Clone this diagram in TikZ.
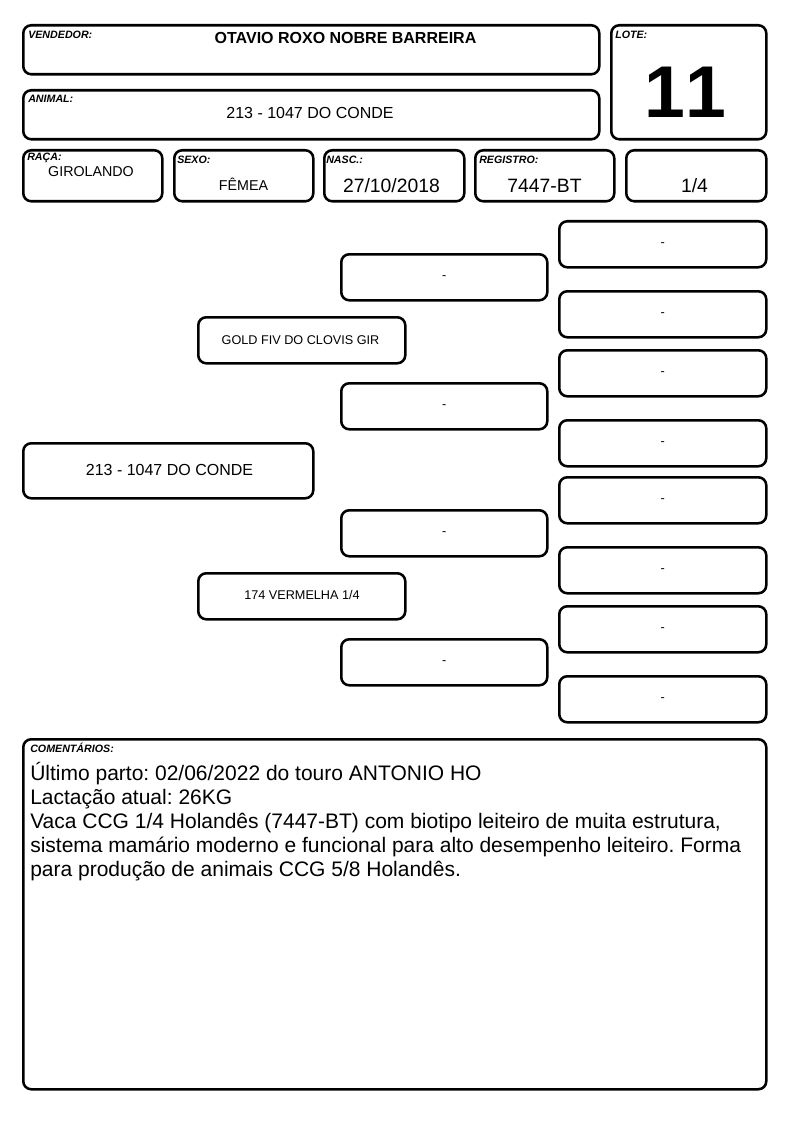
\documentclass[tikz,border=0pt]{standalone}
\usepackage{fontspec}
\setmainfont{Liberation Sans}
\frenchspacing
\newcommand\fsz[1]{\fontsize{#1}{#1}\selectfont}
\newcommand\mkbox[5]{\node[box, minimum width={(#4-#2-2)*0.75pt}, minimum height={(#5-#3-2)*0.75pt}] (#1) at (#2+1,#3+1) {};}
\tikzset{
  box/.style={draw, line width=1.9pt, rounded corners=6pt, inner sep=0pt, anchor=north west},
  lbl/.style={font=\bfseries\itshape\fsz{8}, anchor=west, inner sep=0pt},
  val/.style={inner sep=0pt, anchor=center},
  ped/.style={inner sep=0pt, anchor=center, font=\fsz{9.5}},
}
\begin{document}
\begin{tikzpicture}[x=0.75pt, y=-0.75pt]
\useasboundingbox (0,0) rectangle (794,1123);
% header boxes
\mkbox{vend}{21}{23}{599}{74}
\mkbox{anim}{21}{88}{599}{139}
\mkbox{lote}{609}{23}{766}{139}
\mkbox{raca}{21}{148}{162}{201}
\mkbox{sexo}{172}{148}{313}{201}
\mkbox{nasc}{322}{148}{464}{201}
\mkbox{reg}{473}{148}{614}{201}
\mkbox{frac}{624}{148}{766}{201}
% labels
\node[lbl] (lvend) at (28,35) {VENDEDOR:};
\node[lbl] (lanim) at (28,99) {ANIMAL:};
\node[lbl] (llote) at (615,35) {LOTE:};
\node[lbl] (lraca) at (27,158) {RAÇA:};
\node[lbl] (lsexo) at (177,160) {SEXO:};
\node[lbl] (lnasc) at (326,160) {NASC.:};
\node[lbl] (lreg) at (479,160) {REGISTRO:};
% values
\node[val, font=\bfseries\fsz{12}] (tvend) at (345.5,38) {OTAVIO ROXO NOBRE BARREIRA};
\node[val, font=\fsz{12}] (tanim) at (310,113) {213 - 1047 DO CONDE};
\node[val, font=\bfseries\fsz{55}\addfontfeatures{Kerning=Off}] (tlote) at (685,92) {11};
\node[val, font=\fsz{10.7}] (traca) at (91,172) {GIROLANDO};
\node[val, font=\fsz{10.7}] (tsexo) at (243.5,184) {FÊMEA};
\node[val, font=\fsz{14.5}] (tnasc) at (391.5,186) {27/10/2018};
\node[val, font=\fsz{14.5}] (treg) at (544.5,186) {7447-BT};
\node[val, font=\fsz{14.5}] (tfrac) at (694.5,186) {1/4};
% pedigree
\mkbox{pA}{21}{441}{313}{498}
\mkbox{pS}{196}{315}{405}{363}
\mkbox{pD}{196}{571}{405}{619}
\mkbox{g1}{339}{252}{547}{300}
\mkbox{g2}{339}{381}{547}{429}
\mkbox{g3}{339}{508}{547}{556}
\mkbox{g4}{339}{637}{547}{685}
\mkbox{h1}{557}{219}{766}{267}
\mkbox{h2}{557}{289}{766}{337}
\mkbox{h3}{557}{348}{766}{396}
\mkbox{h4}{557}{418}{766}{466}
\mkbox{h5}{557}{475}{766}{523}
\mkbox{h6}{557}{545}{766}{593}
\mkbox{h7}{557}{604}{766}{652}
\mkbox{h8}{557}{674}{766}{722}
\node[val, font=\fsz{12}] (tpA) at (169.5,470) {213 - 1047 DO CONDE};
\node[ped] (tpS) at (300.5,340) {GOLD FIV DO CLOVIS GIR};
\node[ped] (tpD) at (302,595) {174 VERMELHA 1/4};
\foreach \n in {g1,g2,g3,g4,h1,h2,h3,h4,h5,h6,h7,h8}{
  \node[ped] (t\n) at ([yshift=-0.5pt]\n.center) {-};
}
% comments
\mkbox{com}{21}{737}{766}{1089}
\node[lbl] (lcom) at (30,748) {COMENTÁRIOS:};
\node[inner sep=0pt, anchor=base west, align=left, font=\fontsize{15.75}{18}\selectfont] (tcom) at (30,876)
{Último parto: 02/06/2022 do touro ANTONIO HO\\
Lactação atual: 26KG\\
Vaca CCG 1/4 Holandês (7447-BT) com biotipo leiteiro de muita estrutura,\\
sistema mamário moderno e funcional para alto desempenho leiteiro. Forma\\
para produção de animais CCG 5/8 Holandês.};
\end{tikzpicture}
\end{document}
